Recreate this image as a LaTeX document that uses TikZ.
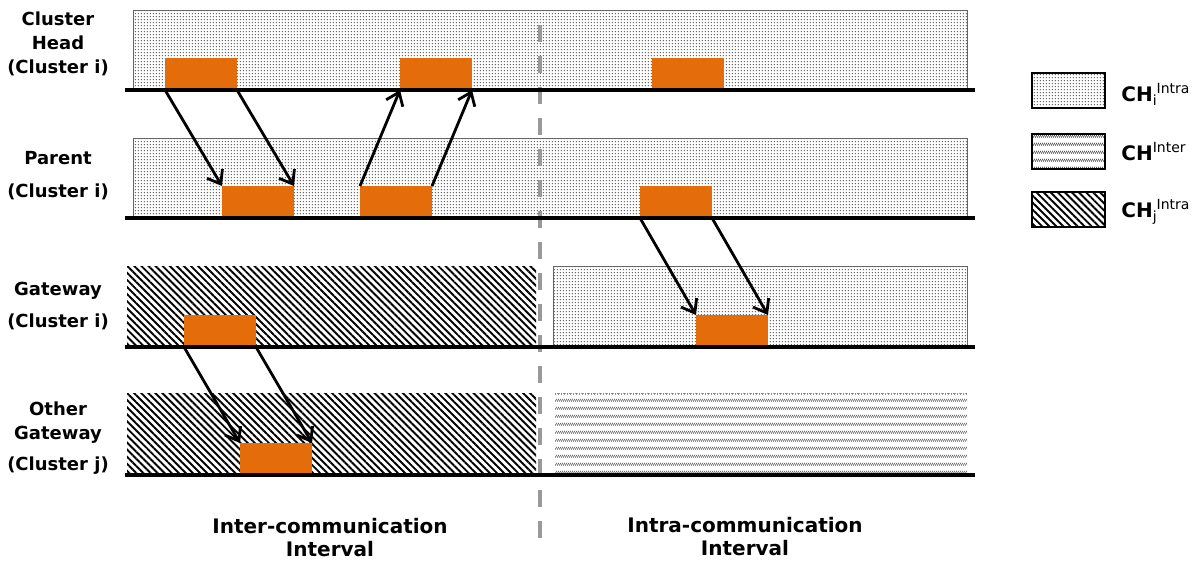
\documentclass[tikz,border=0pt]{standalone}
\usepackage{fontspec}
\setmainfont{DejaVu Sans}
\usetikzlibrary{arrows.meta,patterns.meta}

\definecolor{slotorange}{HTML}{E46C0A}

\tikzdeclarepattern{
  name=finedots,
  type=uncolored,
  bottom left={(0pt,0pt)},
  top right={(1.6pt,1.6pt)},
  tile size={(1.6pt,1.6pt)},
  code={\pgfpathcircle{\pgfpoint{0.8pt}{0.8pt}}{0.35pt}\pgfusepath{fill}}
}
\tikzdeclarepattern{
  name=wavyrows,
  type=uncolored,
  bottom left={(0pt,0pt)},
  top right={(1.2pt,4pt)},
  tile size={(1.2pt,4pt)},
  code={\pgfsetlinewidth{0.45pt}\pgfpathmoveto{\pgfpoint{0pt}{2.9pt}}\pgfpathlineto{\pgfpoint{1.2pt}{1.3pt}}\pgfusepath{stroke}}
}

\newcommand{\chlabel}[2]{CH\raisebox{-2pt}{\mdseries\fontsize{7}{7}\selectfont #1}\raisebox{4pt}{\mdseries\fontsize{7}{7}\selectfont #2}}

\begin{document}
\begin{tikzpicture}
	[x=0.5pt,y=-0.5pt,
	 every node/.style={font=\bfseries\fontsize{9}{12}\selectfont, align=center},
	 slot/.style={fill=slotorange, minimum width=36pt, minimum height=16pt, inner sep=0pt, outer sep=0pt, anchor=south west},
	 dotted area/.style={draw=black!60, line width=0.4pt, pattern=finedots, pattern color=black!80},
	 hatched area/.style={pattern={Lines[angle=-45,distance=2.5pt,line width=0.95pt]}},
	 wavy area/.style={pattern=wavyrows, pattern color=black!55},
	 timeline/.style={line width=2pt},
	 message/.style={line width=1.4pt, -{Straight Barb[length=6pt,width=9pt,line width=1.4pt]}},
	 legbox/.style={draw, line width=1pt, minimum width=36.5pt, minimum height=17.5pt, inner sep=0pt}]
	\useasboundingbox (0,0) rectangle (1197,563);

	% channel areas
	\path[dotted area] (133,10) rectangle (967,90);
	\path[dotted area] (133,138) rectangle (967,218);
	\path[hatched area] (127,266) rectangle (536,347);
	\path[dotted area] (553,266) rectangle (967,347);
	\path[hatched area] (127,393) rectangle (536,475);
	\path[wavy area] (555,393) rectangle (967,475);
	\draw[black!45, line width=0.6pt, dash pattern=on 0.5pt off 1pt] (555,394) -- (967,394);

	% slots
	\node[slot] (h1) at (165,90) {};
	\node[slot] (h2) at (400,90) {};
	\node[slot] (h3) at (652,90) {};
	\node[slot] (p1) at (222,218) {};
	\node[slot] (p2) at (360,218) {};
	\node[slot] (p3) at (640,218) {};
	\node[slot] (g1) at (184,347) {};
	\node[slot] (g2) at (696,347) {};
	\node[slot] (o1) at (240,475) {};

	\draw[black!40, line width=2pt, dash pattern=on 8.5pt off 7pt] (540,25) -- (540,540);

	\draw[timeline] (125,90) -- (975,90);
	\draw[timeline] (125,218) -- (975,218);
	\draw[timeline] (125,347) -- (975,347);
	\draw[timeline] (125,475) -- (975,475);

	\foreach \from/\to in {h1.south west/p1.north west,h1.south east/p1.north east,
		p2.north west/h2.south west,p2.north east/h2.south east,
		p3.south west/g2.north west,p3.south east/g2.north east,
		g1.south west/o1.north west,g1.south east/o1.north east}
	\draw[message] (\from) -- (\to);

	% row labels
	\node (lhead) at (58,44) {Cluster\\Head\\(Cluster i)};
	\node (lparent) at (58,176) {Parent\\[4.5pt](Cluster i)};
	\node (lgate) at (58,306) {Gateway\\[4pt](Cluster i)};
	\node (lother) at (58,438) {Other\\Gateway\\[3.5pt](Cluster j)};

	\node[font=\bfseries\fontsize{10}{11.5}\selectfont] (linter) at (330,538) {Inter-communication\\Interval};
	\node[font=\bfseries\fontsize{10}{11.5}\selectfont] (lintra) at (745,537) {Intra-communication\\Interval};

	% legend
	\node[legbox, pattern=finedots, pattern color=black!80] (kintra) at (1068.5,90.5) {};
	\node[legbox, pattern=wavyrows, pattern color=black!65] (kinter) at (1068.5,151) {};
	\node[legbox, pattern={Lines[angle=-45,distance=2.5pt,line width=0.95pt]}] (kother) at (1068.5,209) {};
	\node[anchor=west, inner sep=0pt, font=\bfseries\fontsize{10}{12}\selectfont] (tintra) at (1121,94) {\chlabel{i}{Intra}};
	\node[anchor=west, inner sep=0pt, font=\bfseries\fontsize{10}{12}\selectfont] (tinter) at (1121,153) {\chlabel{}{Inter}};
	\node[anchor=west, inner sep=0pt, font=\bfseries\fontsize{10}{12}\selectfont] (tother) at (1121,212) {\chlabel{j}{Intra}};
\end{tikzpicture}
\end{document}
